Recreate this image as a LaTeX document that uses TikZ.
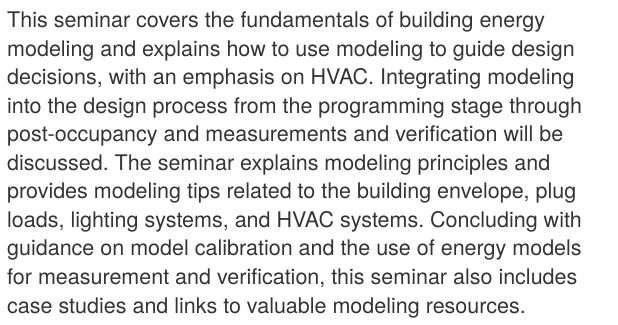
\documentclass[tikz,border=0pt]{standalone}
\usepackage{fontspec}
\setmainfont{TeX Gyre Heros}
\frenchspacing
\definecolor{bodytext}{HTML}{333333}
\definecolor{headblue}{HTML}{2B8FD6}
\begin{document}
\begin{tikzpicture}[x=1pt,y=1pt,
  bodyline/.style={anchor=base west,inner sep=0pt,text=bodytext,font=\fontsize{21.5}{28}\selectfont},
  headline/.style={anchor=base west,inner sep=0pt,text=headblue,font=\fontsize{22}{28}\selectfont}]
\useasboundingbox (0,0) rectangle (618,324);
\begin{scope}
\clip (0,0) rectangle (618,324);
\node[headline] (head) at (7,329) {Course Learning};
\end{scope}
\node[bodyline] (l1) at (7,296) {This seminar covers the fundamentals of building energy};
\node[bodyline] (l2) at (7,267.5) {modeling and explains how to use modeling to guide design};
\node[bodyline] (l3) at (7,239) {decisions, with an emphasis on HVAC. Integrating modeling};
\node[bodyline] (l4) at (7,210.5) {into the design process from the programming stage through};
\node[bodyline] (l5) at (7,182) {post-occupancy and measurements and verification will be};
\node[bodyline] (l6) at (7,153.5) {discussed. The seminar explains modeling principles and};
\node[bodyline] (l7) at (7,125) {provides modeling tips related to the building envelope, plug};
\node[bodyline] (l8) at (7,96.5) {loads, lighting systems, and HVAC systems. Concluding with};
\node[bodyline] (l9) at (7,68) {guidance on model calibration and the use of energy models};
\node[bodyline] (l10) at (7,39.5) {for measurement and verification, this seminar also includes};
\node[bodyline] (l11) at (7,11) {case studies and links to valuable modeling resources.};
\end{tikzpicture}
\end{document}
